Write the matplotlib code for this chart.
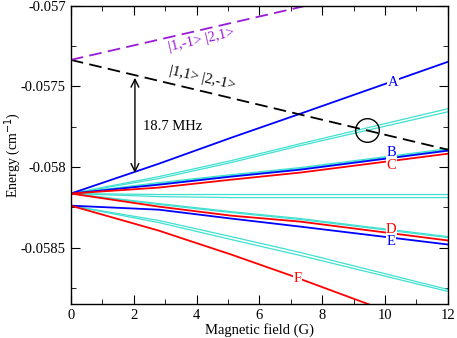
import numpy as np
import matplotlib
matplotlib.use("Agg")
import matplotlib.pyplot as plt
from matplotlib.ticker import MultipleLocator, FuncFormatter

plt.rcParams["font.family"] = ["Liberation Serif", "DejaVu Serif"]
plt.rcParams["axes.unicode_minus"] = False

# field values (G) where the levels were read
field = [0, 2.8, 5.1, 7.3, 12]
field_f = [0, 2.8, 5.1, 7.0, 9.4, 12]

# energies (cm^-1)
level_a = [-0.058165, -0.05798, -0.057819, -0.05767, -0.057348]
cyan_up1 = [-0.058165, -0.05806, -0.057961, -0.057856, -0.057639]
cyan_up2 = [-0.058165, -0.058072, -0.057973, -0.057868, -0.057658]
cyan_b1 = [-0.058165, -0.058097, -0.058048, -0.058004, -0.057887]
cyan_b2 = [-0.058165, -0.058103, -0.058054, -0.05801, -0.057893]
level_b = [-0.058165, -0.05811, -0.05806, -0.058017, -0.057899]
level_c = [-0.058165, -0.058128, -0.058079, -0.058035, -0.057918]
flat1 = [-0.058165, -0.058171, -0.058171, -0.058171, -0.058171]
flat2 = [-0.058165, -0.058184, -0.05819, -0.05819, -0.05819]
cyan_d1 = [-0.058165, -0.058227, -0.058277, -0.05832, -0.058432]
cyan_d2 = [-0.058165, -0.058233, -0.058283, -0.058326, -0.058438]
level_d = [-0.058165, -0.058246, -0.058302, -0.058339, -0.058456]
level_e = [-0.05824, -0.058265, -0.05832, -0.05837, -0.058481]
cyan_low1 = [-0.05824, -0.058332, -0.058432, -0.05853, -0.05876]
cyan_low2 = [-0.05824, -0.058345, -0.05845, -0.058549, -0.058772]
level_f = [-0.05824, -0.058395, -0.058543, -0.058673, -0.058846, -0.059038]

# dashed reference states
field_dash = [0, 12]
dash_black = [-0.057336, -0.057893]
dash_purple = [-0.057336, -0.056798]

fig = plt.figure(figsize=(4.57, 3.38), dpi=100)
ax = fig.add_axes([0.155, 0.1006, 0.825, 0.8825])

cyan = "#40e0d0"
for c in [cyan_up1, cyan_up2, cyan_b1, cyan_b2, flat1, flat2, cyan_d1, cyan_d2, cyan_low1, cyan_low2]:
    ax.plot(field, c, color=cyan, lw=0.9)

ax.plot(field, level_a, color="#0000ff", lw=1.3)
ax.plot(field, level_b, color="#0000ff", lw=1.3)
ax.plot(field, level_e, color="#0000ff", lw=1.3)
ax.plot(field, level_c, color="#ff0000", lw=1.3)
ax.plot(field, level_d, color="#ff0000", lw=1.3)
ax.plot(field_f, level_f, color="#ff0000", lw=1.3)

ax.plot(field_dash, dash_black, color="black", lw=1.3, dashes=(7, 3.5))
ax.plot(field_dash, dash_purple, color="#9a1ad8", lw=1.3, dashes=(7, 3.5))

# state labels
ax.text(4.17, -0.057212, "|1,-1> |2,1>", color="#9a1ad8", fontsize=10.5,
        rotation=13, ha="center", va="center")
ax.text(4.17, -0.057447, "|1,1> |2,-1>", color="black", fontsize=10.5,
        rotation=-13, ha="center", va="center")

bbox = dict(facecolor="white", edgecolor="none", pad=0.3)
letters = [("A", 10.25, -0.057478, "#0000ff"), ("B", 10.2, -0.057912, "#0000ff"),
           ("C", 10.2, -0.057993, "#ff0000"), ("D", 10.2, -0.058388, "#ff0000"),
           ("E", 10.2, -0.058463, "#0000ff"), ("F", 7.22, -0.058691, "#ff0000")]
for s, x, y, col in letters:
    ax.text(x, y, s, color=col, fontsize=10.5, ha="center", va="center", bbox=bbox)

# 18.7 MHz gap
ax.annotate("", xy=(2.04, -0.05743), xytext=(2.04, -0.058054),
            arrowprops=dict(arrowstyle="<->", color="black", lw=1.0, mutation_scale=14))
ax.text(2.3, -0.05775, "18.7 MHz", fontsize=10.5, ha="left", va="center")

# crossing circle
ax.plot([9.42], [-0.057769], marker="o", ms=17, mfc="none", mec="black", mew=1.0)

ax.set_xlim(0, 12)
ax.set_ylim(-0.05885, -0.057)
ax.xaxis.set_major_locator(MultipleLocator(2))
ax.xaxis.set_minor_locator(MultipleLocator(1))
ax.yaxis.set_major_locator(MultipleLocator(0.0005))
ax.yaxis.set_minor_locator(MultipleLocator(0.00025))
ax.yaxis.set_major_formatter(FuncFormatter(lambda v, p: "%g" % round(v, 6)))
ax.tick_params(which="both", direction="in", top=True, right=True, labelsize=10.5)
ax.tick_params(which="major", length=6.5)
ax.tick_params(which="minor", length=3.6)
for s in ax.spines.values():
    s.set_linewidth(1.0)

ax.set_xlabel("Magnetic field (G)", fontsize=10.5, labelpad=1)
ax.set_ylabel("Energy (cm$^{-1}$)", fontsize=10)
ax.yaxis.set_label_coords(-0.128, 0.5)

fig.savefig("out.png", dpi=100)
